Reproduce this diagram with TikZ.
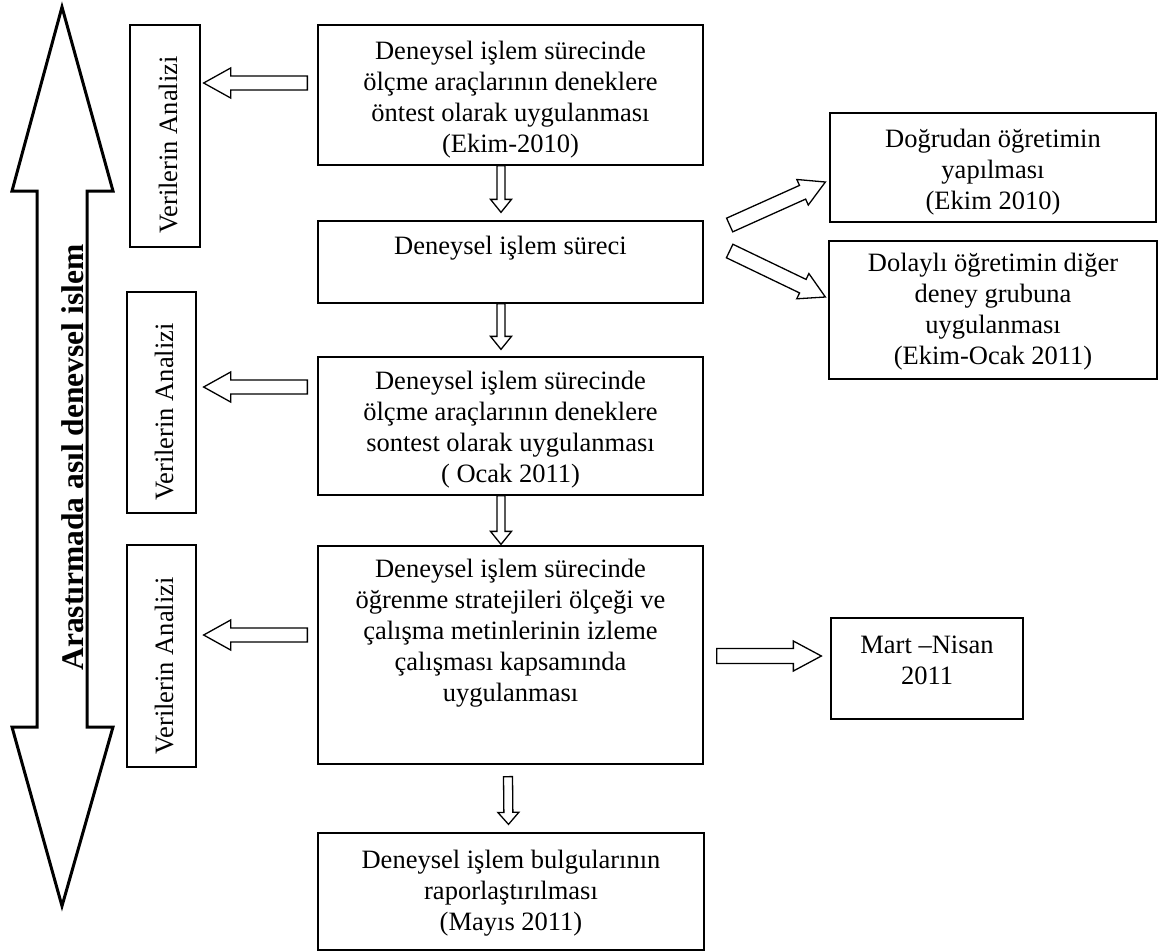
\documentclass[tikz,border=0pt]{standalone}
\usepackage{fontspec}
\setmainfont{Liberation Serif}
\usetikzlibrary{calc}

% hollow block arrow from #1 to #2: half shaft width #3, half head width #4, head length #5
\newcommand\blockarrow[5]{%
  \coordinate (bahead) at ($(#2)!#5!(#1)$);
  \draw[hollowarrow] ($(#1)!#3!90:(#2)$) -- ($(bahead)!#3!90:(#2)$) -- ($(bahead)!#4!90:(#2)$)
    -- (#2) -- ($(bahead)!#4!-90:(#2)$) -- ($(bahead)!#3!-90:(#2)$) -- ($(#1)!#3!-90:(#2)$) -- cycle;}

\begin{document}
\begin{tikzpicture}[x=1pt,y=-1pt,
  box/.style={draw, line width=1.3pt, inner sep=0pt},
  txt/.style={align=center, inner sep=0pt, font=\fontsize{26.5}{31}\selectfont},
  vtxt/.style={rotate=90, anchor=base, inner sep=0pt, font=\fontsize{26.5}{31}\selectfont},
  hollowarrow/.style={draw, fill=white, line width=1.3pt, line join=miter}]

\path[use as bounding box] (0,0) rectangle (1166,951);

% main column
\node[box, minimum width=385pt, minimum height=140pt] (b1) at (510.5,95) {};
\node[txt] (b1t) at (510.5,100) {Deneysel işlem sürecinde\\ölçme araçlarının deneklere\\öntest olarak uygulanması\\(Ekim-2010)};
\node[box, minimum width=385pt, minimum height=82pt] (b2) at (510.5,262) {};
\node[txt] (b2t) at (510.5,248) {Deneysel işlem süreci};
\node[box, minimum width=385pt, minimum height=138pt] (b3) at (510.5,426) {};
\node[txt] (b3t) at (510.5,430) {Deneysel işlem sürecinde\\ölçme araçlarının deneklere\\sontest olarak uygulanması\\( Ocak 2011)};
\node[box, minimum width=385pt, minimum height=218pt] (b4) at (510.5,655) {};
\node[txt] (b4t) at (510.5,633) {Deneysel işlem sürecinde\\öğrenme stratejileri ölçeği ve\\çalışma metinlerinin izleme\\çalışması kapsamında\\uygulanması};
\node[box, minimum width=386pt, minimum height=117pt] (b5) at (511,891.5) {};
\node[txt] (b5t) at (511,893) {Deneysel işlem bulgularının\\raporlaştırılması\\(Mayıs 2011)};

% right column
\node[box, minimum width=326pt, minimum height=109pt] (r1) at (993,167.5) {};
\node[txt] (r1t) at (993,172) {Doğrudan öğretimin\\yapılması\\(Ekim 2010)};
\node[box, minimum width=328pt, minimum height=138pt] (r2) at (993,310) {};
\node[txt] (r2t) at (993,311.5) {Dolaylı öğretimin diğer\\deney grubuna\\uygulanması\\(Ekim-Ocak 2011)};
\node[box, minimum width=192pt, minimum height=101pt] (r3) at (927,668.5) {};
\node[txt] (r3t) at (927,660) {Mart –Nisan\\2011};

% data analysis boxes
\node[box, minimum width=70pt, minimum height=222pt] (va1) at (165,136) {};
\node[vtxt] (va1t) at (177,145) {Verilerin Analizi};
\node[box, minimum width=69pt, minimum height=221pt] (va2) at (161.5,402.5) {};
\node[vtxt] (va2t) at (173,412) {Verilerin Analizi};
\node[box, minimum width=69pt, minimum height=222pt] (va3) at (161.5,656) {};
\node[vtxt] (va3t) at (173,666) {Verilerin Analizi};

% big two-headed arrow with its caption
\draw[line width=3pt, line join=miter, fill=white]
  (62,7) -- (113,191) -- (87,191) -- (87,727) -- (113,727) -- (62,906)
  -- (12,727) -- (37,727) -- (37,191) -- (12,191) -- cycle;
\node[rotate=90, anchor=base, inner sep=0pt, font=\fontsize{31.5}{36}\selectfont\bfseries] (main) at (83,457.5) {Arastırmada asıl denevsel islem};

% arrow end points
\coordinate (l1s) at ($(b1.west |- 0,83)+(-10,0)$);
\coordinate (l1e) at ($(va1.east |- 0,83)+(3,0)$);
\coordinate (l2s) at ($(b3.west |- 0,387)+(-10,0)$);
\coordinate (l2e) at ($(va2.east |- 0,387)+(7,0)$);
\coordinate (l3s) at ($(b4.west |- 0,635)+(-10,0)$);
\coordinate (l3e) at ($(va3.east |- 0,635)+(7,0)$);

\coordinate (d1s) at ($(b1.south)+(-9.5,0)$);
\coordinate (d1e) at ($(b2.north)+(-9.5,-8)$);
\coordinate (d2s) at ($(b2.south)+(-9.5,0)$);
\coordinate (d2e) at ($(b3.north)+(-9.5,-7)$);
\coordinate (d3s) at ($(b3.south)+(-9.5,0)$);
\coordinate (d3e) at ($(b4.north)+(-9.5,-1)$);
\coordinate (d4s) at ($(b4.south)+(-2.5,12)$);
\coordinate (d4e) at ($(b5.north)+(-2.5,-8)$);

\coordinate (rs) at ($(b4.east |- 0,656)+(13,0)$);
\coordinate (re) at ($(r3.west |- 0,656)+(-9,0)$);

\coordinate (us) at ($(b2.east)+(26,-37)$);
\coordinate (ue) at ($(r1.west)+(-4,14.5)$);
\coordinate (ws) at ($(b2.east)+(26,-11)$);
\coordinate (we) at ($(r2.west)+(-3,-13)$);

% hollow arrows
\blockarrow{l1s}{l1e}{7pt}{15pt}{27pt}
\blockarrow{l2s}{l2e}{7pt}{15pt}{27pt}
\blockarrow{l3s}{l3e}{7pt}{15pt}{27pt}
\blockarrow{d1s}{d1e}{4pt}{10.5pt}{13pt}
\blockarrow{d2s}{d2e}{4pt}{10.5pt}{13pt}
\blockarrow{d3s}{d3e}{4pt}{10.5pt}{13pt}
\blockarrow{d4s}{d4e}{4.5pt}{10.5pt}{12pt}
\blockarrow{rs}{re}{7.5pt}{15pt}{28pt}
\blockarrow{us}{ue}{7.5pt}{14pt}{25pt}
\blockarrow{ws}{we}{7.5pt}{14pt}{25pt}

\end{tikzpicture}
\end{document}
